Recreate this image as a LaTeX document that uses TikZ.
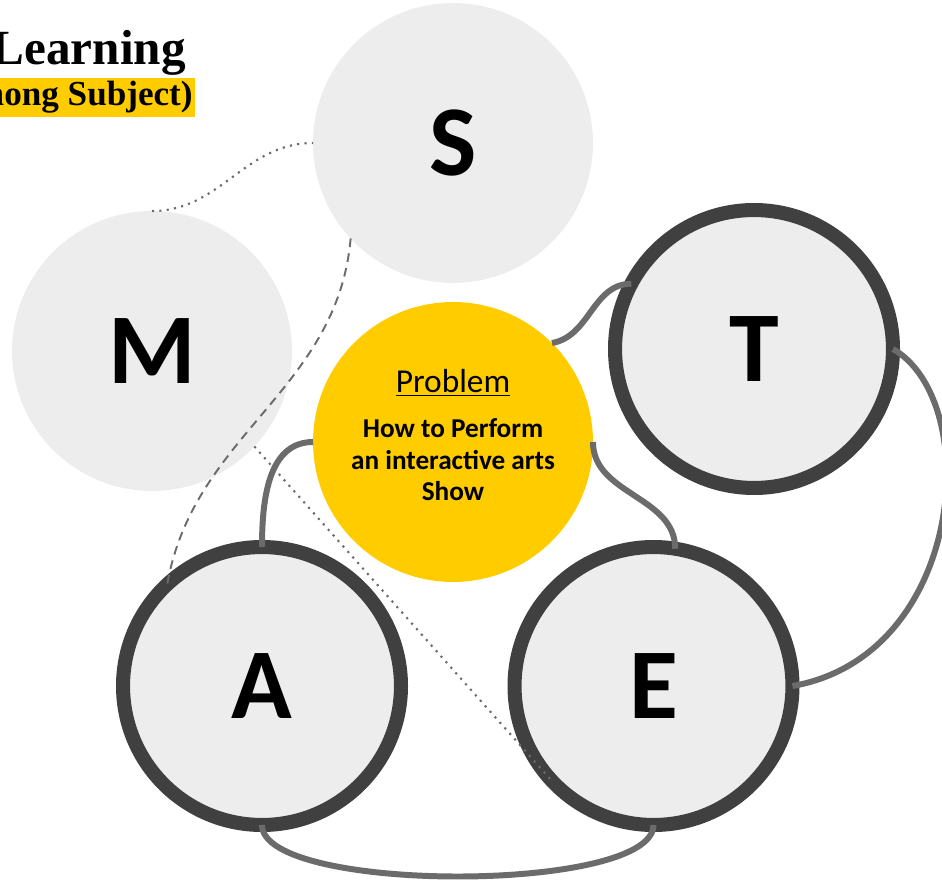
\documentclass[tikz,border=0pt]{standalone}
\usepackage{fontspec}
\setmainfont{Carlito}
\newfontfamily\titlefont{Liberation Serif}
\definecolor{lightgrey}{HTML}{EDEDED}
\definecolor{ringgrey}{HTML}{404040}
\definecolor{linkgrey}{HTML}{6B6B6B}
\definecolor{probyellow}{HTML}{FFCC00}
\tikzset{
  plain/.style={circle,fill=lightgrey,minimum size=5.6cm,inner sep=0pt,outer sep=0pt,font=\bfseries\fontsize{57}{60}\selectfont},
  ringed/.style={plain,draw=ringgrey,line width=8pt,minimum size=5.56cm},
  link/.style={draw=linkgrey,line width=3.4pt},
  dotline/.style={draw=linkgrey,line width=1.2pt,dash pattern=on 1.2pt off 3pt},
  dashline/.style={draw=linkgrey,line width=1.1pt,dash pattern=on 5pt off 3.5pt}
}
\begin{document}
\begin{tikzpicture}[x=0.02cm,y=-0.02cm]
	\useasboundingbox (0,0) rectangle (942,881);
	% title
	\node[anchor=base east,inner sep=0pt,font=\titlefont\bfseries\fontsize{28}{30}\selectfont] (ttl) at (186,65) {Learning};
	\node[anchor=east,fill=probyellow,inner xsep=0.04cm,inner ysep=0pt,minimum height=0.78cm,font=\titlefont\bfseries\fontsize{20}{22}\selectfont] (sub) at (195,97.5) {hong Subject)};
	% circles
	\node[plain] (S) at (453,143) {S};
	\node[plain] (M) at (152,351) {M};
	\node[ringed] (T) at (754,349) {T};
	\node[ringed] (A) at (262,686) {A};
	\node[ringed] (E) at (653.5,686) {E};
	\node[circle,fill=probyellow,minimum size=5.6cm,inner sep=0pt,outer sep=0pt,
		label={[align=center,yshift=0.14cm,font=\bfseries\fontsize{15.5}{17.8}\selectfont]center:{\fontsize{19}{22}\selectfont\mdseries\underline{Problem}}\\[8pt]How to Perform\\an interactive arts\\Show}] (prob) at (453,442) {};
	% links
	\draw[link] (prob.45) to[out=10,in=180] (T.152);
	\draw[link] (prob.west) to[out=180,in=90] (A.north);
	\draw[link] (prob.east) to[out=-90,in=90] (E.81);
	\draw[link] (T.east) to[out=-30,in=10,out distance=2.1cm,in distance=3.5cm] (E.east);
	\draw[link] (A.south) to[out=-90,in=-90,looseness=0.45] (E.south);
	\draw[dotline] (M.north) to[out=0,in=180] (S.west);
	\draw[dotline] (M.-43) -- (E.222);
	\draw[dashline] (S.223) to[out=-95,in=80] (A.133);
\end{tikzpicture}
\end{document}
